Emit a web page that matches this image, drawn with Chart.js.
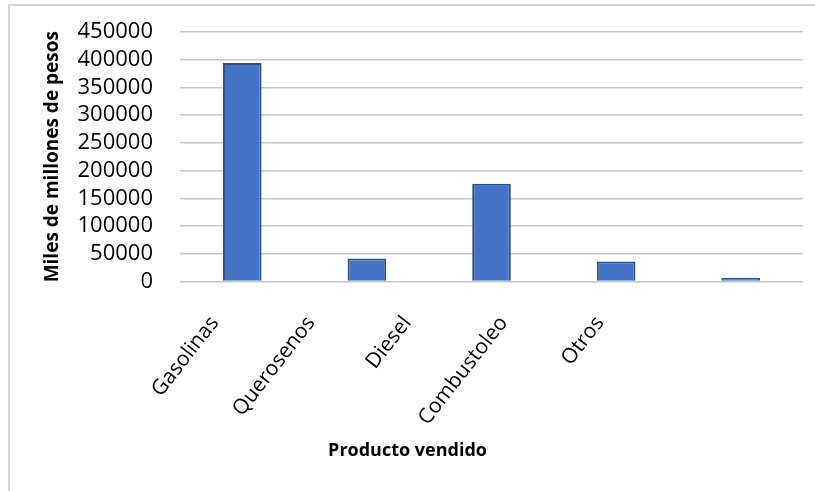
<!DOCTYPE html>
<html>
<head>
<meta charset="utf-8">
<script src="https://cdn.jsdelivr.net/npm/chart.js@4"></script>
<style>
  html, body { margin: 0; padding: 0; background: #fff; }
  #wrap { position: relative; width: 815px; height: 491px; }
  #frame {
    position: absolute; left: 8px; top: 4px; width: 820px; height: 500px;
    border-left: 2px solid #d4d4d4; border-top: 2px solid #d4d4d4;
    pointer-events: none;
  }
</style>
</head>
<body>
<div id="wrap">
  <canvas id="chartVentas" width="815" height="491"></canvas>
  <div id="frame"></div>
</div>
<script>
const productos = ['Gasolinas', 'Querosenos', 'Diesel', 'Combustoleo', 'Otros'];
const ventas = [394000, 41500, 176000, 36000, 6500];
const yMax = 450000;
const yStep = 50000;

// the category names sit on their own scale, a bit tighter than the bars
const etiquetaMin = -0.36;
const etiquetaMax = 6.11;

const fuente = "'Open Sans', 'Noto Sans', sans-serif";
const canvas = document.getElementById('chartVentas');

new Chart(canvas, {
    type: 'bar',
    data: {
        labels: productos,
        datasets: [{
            label: 'Ventas',
            data: ventas,
            backgroundColor: '#4472c4',
            borderColor: '#2f528f',
            borderWidth: 2,
            barPercentage: 0.31,
            categoryPercentage: 1,
            xAxisID: 'x'
        }]
    },
    options: {
        responsive: false,
        animation: false,
        layout: { padding: { top: 32, right: 0, left: 0, bottom: 0 } },
        plugins: {
            legend: { display: false },
            tooltip: { enabled: false },
            title: {
                display: true,
                position: 'bottom',
                text: 'Producto vendido',
                color: '#000',
                font: { family: fuente, size: 18, weight: 'bold' },
                padding: { top: 0, bottom: 29 }
            }
        },
        scales: {
            x: { display: false },
            xNombres: {
                type: 'linear',
                position: 'bottom',
                bounds: 'data',
                offset: false,
                min: etiquetaMin,
                max: etiquetaMax,
                grid: { display: false, drawTicks: false },
                border: { display: false },
                ticks: {
                    autoSkip: false,
                    color: '#000',
                    font: { family: fuente, size: 21 },
                    minRotation: 52,
                    maxRotation: 52,
                    padding: 30,
                    callback: (v) => productos[v] ?? ''
                },
                afterBuildTicks: (scale) => {
                    scale.ticks = productos.map((p, i) => ({ value: i }));
                },
                afterFit: (scale) => { scale.height = 159; }
            },
            y: {
                min: 0,
                max: yMax,
                grid: { color: '#c8c8c8', lineWidth: 1.5, tickColor: 'rgba(0,0,0,0)', tickLength: 19 },
                border: { display: false },
                ticks: {
                    stepSize: yStep,
                    autoSkip: false,
                    color: '#000',
                    font: { family: fuente, size: 22 },
                    padding: 8,
                    callback: (v) => String(v)
                },
                title: {
                    display: true,
                    text: 'Miles de millones de pesos',
                    color: '#000',
                    font: { family: fuente, size: 19, weight: 'bold' },
                    padding: { top: 41, bottom: 0 }
                },
                afterFit: (scale) => { scale.width = 180; }
            },
            // empty margin on the right of the plot
            yDer: {
                type: 'linear',
                position: 'right',
                grid: { display: false, drawTicks: false },
                border: { display: false },
                ticks: { display: false },
                afterFit: (scale) => { scale.width = 12; }
            }
        }
    }
});
</script>
</body>
</html>
